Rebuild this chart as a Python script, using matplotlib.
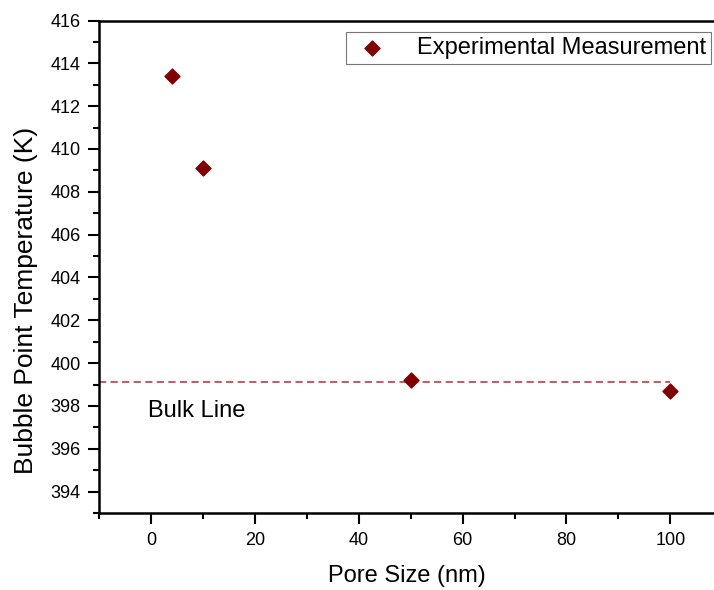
import matplotlib
matplotlib.use('agg')
import matplotlib.pyplot as plt
from matplotlib.ticker import MultipleLocator

plt.rcParams['font.family'] = ['Liberation Sans', 'DejaVu Sans']

# data
pore_size = [4, 10, 50, 100]
bubble_temp = [413.4, 409.1, 399.2, 398.7]
bulk_temp = 399.1
bulk_x = [-10, 100]

fig = plt.figure(figsize=(7.14, 5.9), dpi=100)
ax = fig.add_axes([99 / 714, 1 - 513 / 590, 1 - 99 / 714, (513 - 20.5) / 590])

ax.plot(bulk_x, [bulk_temp, bulk_temp], ls=(0, (4, 2.4)), color='#cc4a4e', lw=1.3)
ax.scatter(pore_size, bubble_temp, marker='D', s=58, color='#800000',
           label='Experimental Measurement', zorder=3)
ax.text(-0.6, 397.75, 'Bulk Line', fontsize=17, va='center', ha='left')

ax.set_xlim(-10, 108.4)
ax.set_ylim(393, 416)
ax.xaxis.set_major_locator(MultipleLocator(20))
ax.xaxis.set_minor_locator(MultipleLocator(10))
ax.yaxis.set_major_locator(MultipleLocator(2))
ax.yaxis.set_minor_locator(MultipleLocator(1))
ax.tick_params(which='major', length=8, width=1.5, labelsize=13, direction='out')
ax.tick_params(axis='y', which='major', pad=5)
ax.tick_params(axis='x', which='major', pad=6)
ax.tick_params(which='minor', length=4, width=1.5, direction='out')
ax.spines['right'].set_visible(False)
for s in ['left', 'bottom', 'top']:
    ax.spines[s].set_linewidth(1.8)

ax.set_xlabel('Pore Size (nm)', fontsize=17, labelpad=11)
ax.set_ylabel('Bubble Point Temperature (K)', fontsize=19)
ax.yaxis.set_label_coords(-0.099, 0.432)

leg = ax.legend(loc='upper right', bbox_to_anchor=(0.995, 0.976), fontsize=17,
                frameon=True, fancybox=False, edgecolor='#555555',
                borderpad=0.2, handletextpad=1.0, borderaxespad=0,
                handlelength=1.8)
leg.get_frame().set_linewidth(0.8)

plt.savefig('out.png', dpi=100)
